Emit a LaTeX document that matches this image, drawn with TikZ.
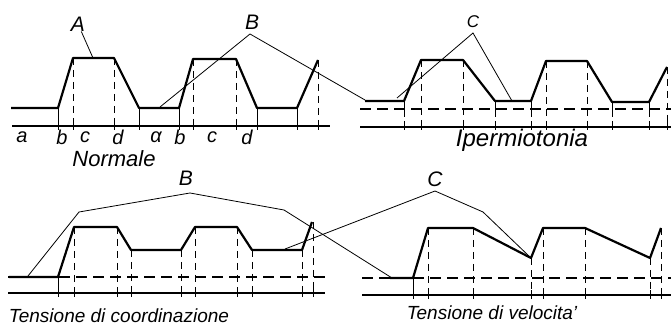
\documentclass[tikz,border=0pt]{standalone}
\usepackage{fontspec}
\setmainfont{Liberation Sans}
\usetikzlibrary{positioning}

\begin{document}
\begin{tikzpicture}[x=1pt, y=-1pt]
    \tikzstyle{trace} = [line width=2.2pt, line join=round]
    \tikzstyle{axis} = [line width=1.1pt]
    \tikzstyle{baseln} = [line width=1.1pt, dash pattern=on 11pt off 6pt]
    \tikzstyle{vdash} = [line width=1pt, dash pattern=on 7pt off 5pt]
    \tikzstyle{tick} = [line width=1pt]
    \tikzstyle{lead} = [line width=0.8pt]
    \tikzstyle{phase} = [font=\fontsize{20}{20}\selectfont\itshape, inner sep=0pt]
    \tikzstyle{lbl} = [font=\fontsize{21}{21}\selectfont\itshape, inner sep=0pt]
    \useasboundingbox (0,0) rectangle (671,328);

    % Normale
    \draw[axis] (12,126) -- (330,126);
    \foreach \x/\y in {73/58,114/58,193/59,236/59,318/60}
        \draw[vdash] (\x,\y) -- (\x,126);
    \foreach \x in {58,139,179,257,297}
        \draw[tick] (\x,108) -- (\x,130);
    \foreach \x in {73,114,193,236,318}
        \draw[tick] (\x,121) -- (\x,130);
    \draw[trace] (11,108) -- (58,108) -- (73,58) -- (114,58) -- (139,108)
        -- (179,108) -- (193,59) -- (236,59) -- (257,108) -- (297,108) -- (318,60);
    \foreach \x/\t in {22/a,62/b,85/c,118/d,156/α,180/b,212/c,247/d}
        \node[phase] (p\x) at (\x,137) {\t};
    \node[font=\fontsize{22}{22}\selectfont\itshape, inner sep=0pt] (norm) at (114,159) {Normale};
    \node[lbl] (A) at (78,24) {A};
    \coordinate (Aend) at (93,58);
    \draw[lead] (A) -- (Aend);
    \node[lbl] (B1) at (252,22) {B};
    \coordinate (B1top) at (250,34);
    \coordinate (B1l) at (160,107);
    \coordinate (B1r) at (365,100);
    \draw[lead] (B1l) -- (B1top) -- (B1r);

    % Ipermiotonia
    \draw[axis] (360,127) -- (671,127);
    \draw[baseln] (360,109) -- (671,109);
    \foreach \x/\y in {421/60,463/60,546/61,587/61,667/67}
        \draw[vdash] (\x,\y) -- (\x,127);
    \foreach \x/\y in {404/101,495/101,531/101,612/102,649/102} {
        \draw[tick] (\x,\y) -- (\x,110);
        \draw[vdash] (\x,110) -- (\x,127);
    }
    \foreach \x in {404,421,463,495,531,546,587,612,649,667}
        \draw[tick] (\x,121) -- (\x,130);
    \draw[trace] (365,101) -- (404,101) -- (421,60) -- (463,60) -- (495,101)
        -- (531,101) -- (546,61) -- (587,61) -- (612,102) -- (649,102) -- (667,67);
    \node[font=\fontsize{24}{24}\selectfont\itshape, inner sep=0pt] (iperm) at (522,140) {Ipermiotonia};
    \node[lbl, font=\fontsize{17}{17}\selectfont\itshape] (C1) at (473,22) {C};
    \coordinate (C1top) at (473,33);
    \coordinate (C1l) at (397,98);
    \coordinate (C1r) at (512,101);
    \draw[lead] (C1l) -- (C1top) -- (C1r);

    % Tensione di coordinazione
    \draw[axis] (8,293) -- (325,293);
    \draw[baseln] (8,277) -- (328,277);
    \foreach \x/\y in {74/227,117/227,131/250,181/250,195/227,237/227,252/250,302/250,313/222}
        \draw[vdash] (\x,\y) -- (\x,293);
    \foreach \x in {58,74,117,131,181,195,237,252,302,313}
        \draw[tick] (\x,288) -- (\x,297);
    \draw[tick] (58,277) -- (58,297);
    \draw[trace] (9,277) -- (58,277) -- (74,227) -- (117,227) -- (131,250)
        -- (181,250) -- (195,227) -- (237,227) -- (252,250) -- (302,250) -- (312,222);
    \node[font=\fontsize{19}{19}\selectfont\itshape, inner sep=0pt] (coord) at (119,316) {Tensione di coordinazione};
    \node[lbl] (B2) at (186,178) {B};
    \coordinate (B2top) at (190,193);
    \coordinate (B2lk) at (79,212);
    \coordinate (B2l) at (28,276);
    \coordinate (B2rk) at (284,210);
    \coordinate (B2r) at (392,278);
    \draw[lead] (B2l) -- (B2lk) -- (B2top) -- (B2rk) -- (B2r);

    % Tensione di velocita'
    \draw[axis] (362,295) -- (671,295);
    \draw[baseln] (362,278) -- (671,278);
    \foreach \x/\y in {428/228,473/228,531/258,543/228,585/228,650/258,661/228}
        \draw[vdash] (\x,\y) -- (\x,295);
    \foreach \x in {413,428,473,531,543,585,650,661}
        \draw[tick] (\x,290) -- (\x,299);
    \draw[tick] (413,278) -- (413,299);
    \draw[trace] (390,278) -- (413,278) -- (428,228) -- (473,228) -- (531,258)
        -- (543,228) -- (585,228) -- (650,258) -- (661,228);
    \node[font=\fontsize{19}{19}\selectfont\itshape, inner sep=0pt] (veloc) at (492,313) {Tensione di velocita'};
    \node[lbl] (C2) at (435,179) {C};
    \coordinate (C2top) at (435,191);
    \coordinate (C2l) at (285,249);
    \coordinate (C2rk) at (483,212);
    \coordinate (C2r) at (531,258);
    \draw[lead] (C2l) -- (C2top) -- (C2rk) -- (C2r);
\end{tikzpicture}
\end{document}
